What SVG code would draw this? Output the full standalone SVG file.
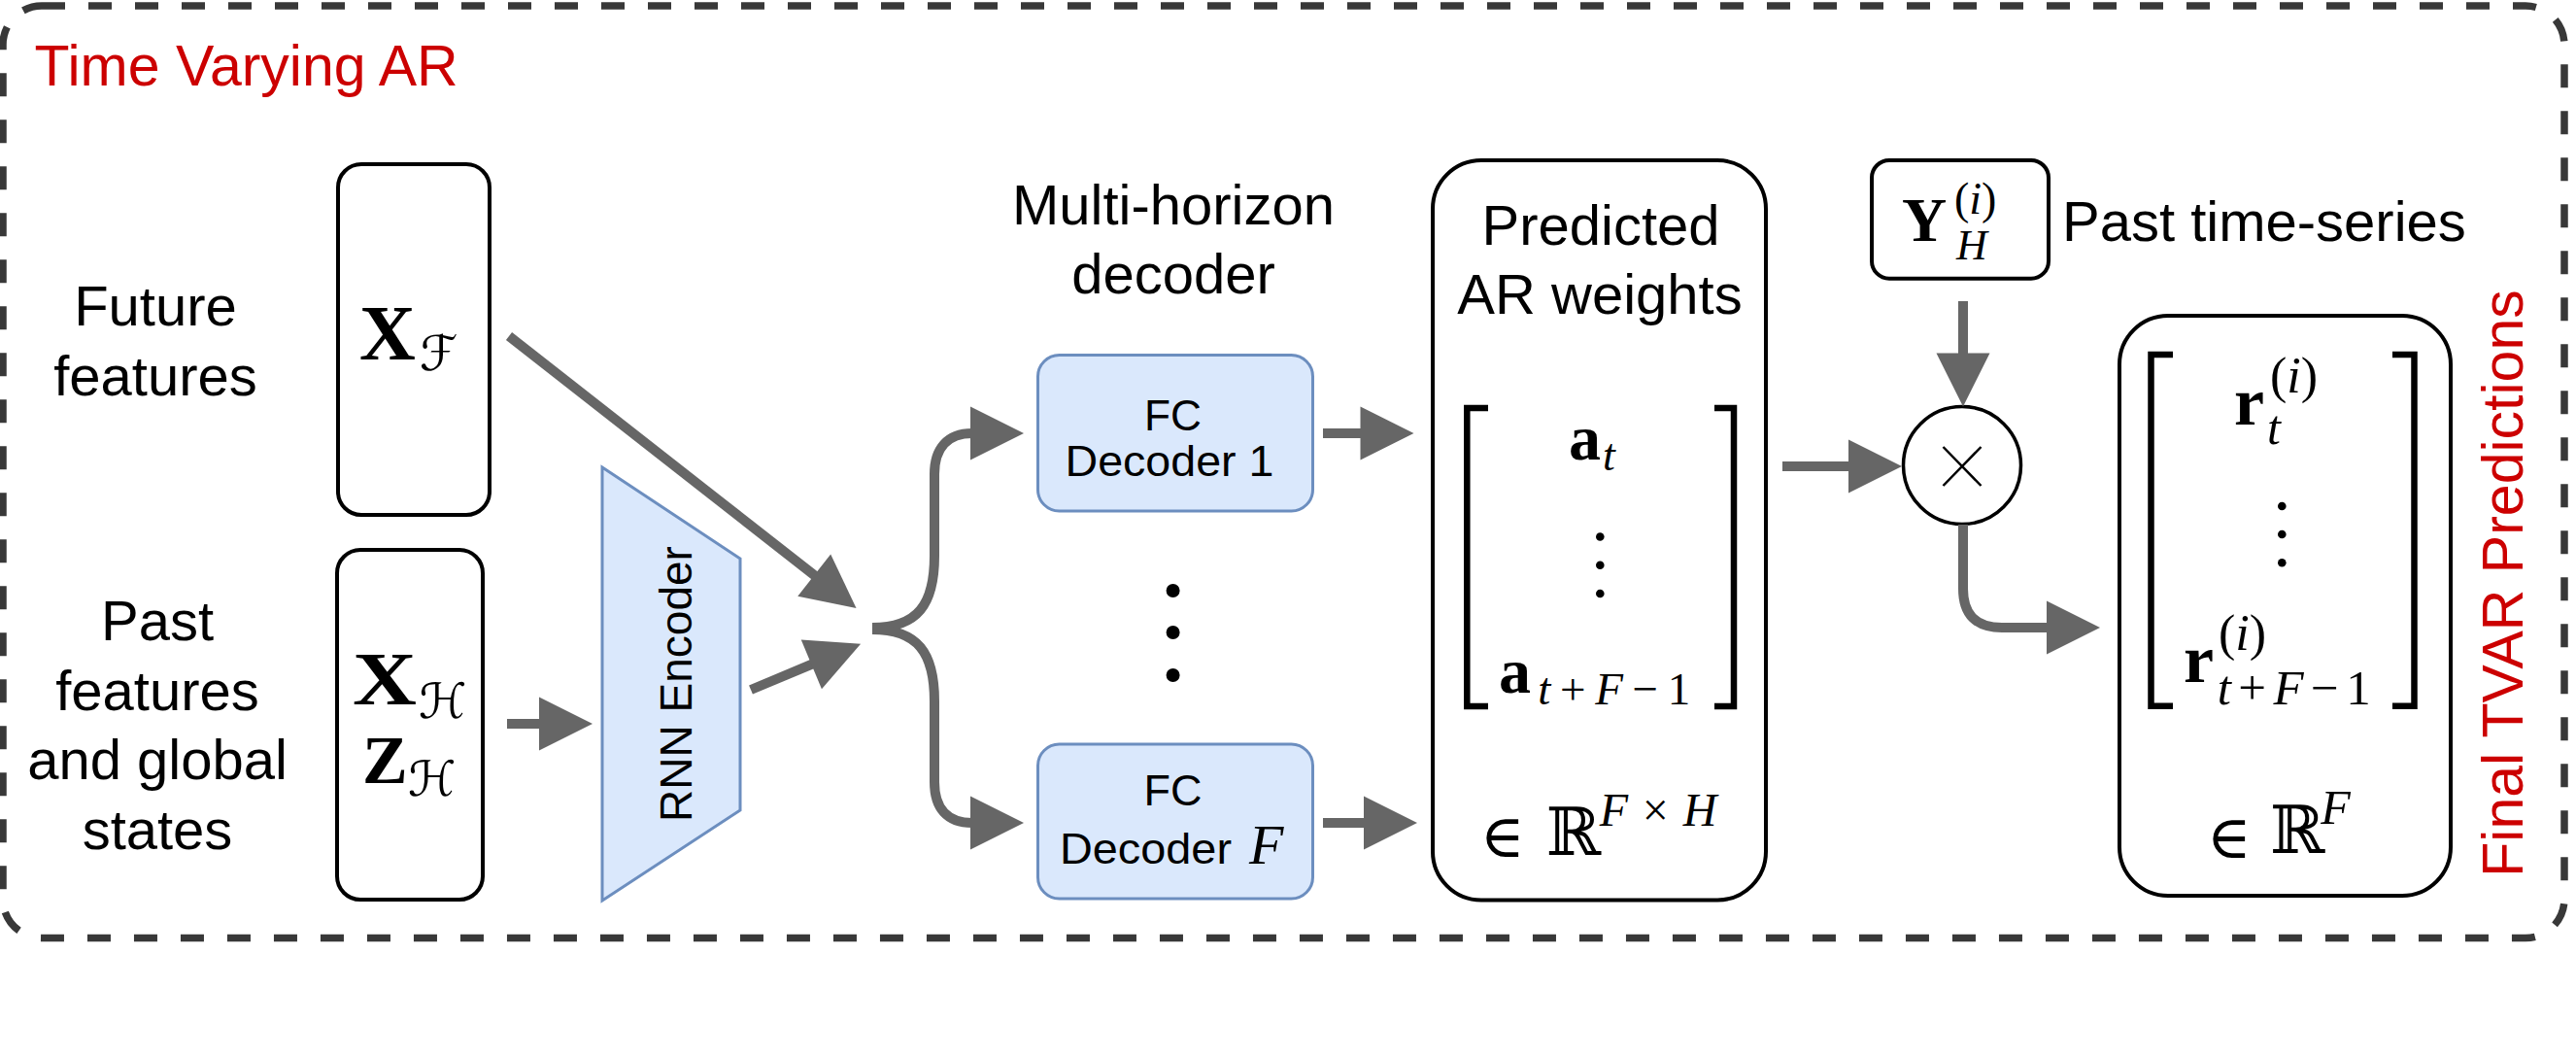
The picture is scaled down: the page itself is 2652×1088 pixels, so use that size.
<svg xmlns="http://www.w3.org/2000/svg" width="2652" height="1088" viewBox="0 0 2652 1088">
<defs>
<marker id="ah" markerUnits="userSpaceOnUse" markerWidth="60" markerHeight="60" refX="2" refY="27.5" orient="auto" overflow="visible">
<path d="M0,0 L55,27.5 L0,55 z" fill="#666"/>
</marker>
<style>
.lbl{font-family:"Liberation Sans",Arial,sans-serif;font-size:58px;fill:#000}
.red{fill:#cc0000}
.box{fill:#fff;stroke:#000;stroke-width:4}
.blue{fill:#dae8fc;stroke:#6c8ebf;stroke-width:3}
.conn{fill:none;stroke:#666;stroke-width:10;marker-end:url(#ah)}
.m{font-family:"Liberation Serif","Times New Roman",serif;fill:#000}
.b{font-weight:bold}
.i{font-style:italic}
.sym{font-family:"DejaVu Serif","DejaVu Sans",serif;fill:#000}
.br{fill:none;stroke:#000;stroke-width:6.5;stroke-linejoin:miter}
.fc{font-family:"Liberation Sans",Arial,sans-serif;font-size:44px;fill:#000}
</style>
</defs>
<rect x="0" y="0" width="2652" height="1088" fill="#fff"/>

<g id="frame">
<rect x="3" y="6" width="2637" height="959.5" rx="40" fill="none" stroke="#383838" stroke-width="7.5" stroke-dasharray="24 24"/>
<text class="lbl red" x="35.6" y="88" style="font-size:59px">Time Varying AR</text>
<text class="lbl red" style="font-size:59px" text-anchor="middle" transform="translate(2597,600.5) rotate(-90)">Final TVAR Predictions</text>
</g>

<g id="label-future">
<text class="lbl" text-anchor="middle" x="160" y="335">Future</text>
<text class="lbl" text-anchor="middle" x="160" y="407">features</text>
</g>
<g id="label-past">
<text class="lbl" text-anchor="middle" x="162" y="659">Past</text>
<text class="lbl" text-anchor="middle" x="162" y="730.5">features</text>
<text class="lbl" text-anchor="middle" x="162" y="802">and global</text>
<text class="lbl" text-anchor="middle" x="162" y="873.5">states</text>
</g>

<g id="n-xf">
<rect class="box" x="348" y="169" width="156" height="361" rx="24"/>
<text class="m b" x="370" y="370" font-size="80">X</text>
<text class="sym i" x="432" y="381" font-size="50">ℱ</text>
</g>

<g id="n-xh">
<rect class="box" x="347" y="566" width="150" height="360" rx="24"/>
<text class="m b" x="363" y="725" font-size="78" textLength="66" lengthAdjust="spacingAndGlyphs">X</text>
<text class="sym i" x="431" y="739" font-size="50">ℋ</text>
<text class="m b" x="373" y="806" font-size="70">Z</text>
<text class="sym i" x="420" y="819" font-size="50">ℋ</text>
</g>

<g id="n-rnn">
<polygon class="blue" points="620,481 762,575 762,834 620,927" stroke-width="2.5"/>
<text class="lbl" style="font-size:46px" text-anchor="middle" transform="translate(712,704) rotate(-90)">RNN Encoder</text>
</g>

<g id="label-multi">
<text class="lbl" text-anchor="middle" x="1208" y="231">Multi-horizon</text>
<text class="lbl" text-anchor="middle" x="1208" y="301.6">decoder</text>
</g>

<g id="n-fc1">
<rect class="blue" x="1068.5" y="365.5" width="283" height="160.5" rx="22"/>
<text class="fc" text-anchor="middle" x="1207.5" y="443.3" textLength="59" lengthAdjust="spacingAndGlyphs">FC</text>
<text class="fc" text-anchor="middle" x="1204" y="490" textLength="215" lengthAdjust="spacingAndGlyphs">Decoder 1</text>
</g>

<g id="n-dots">
<circle cx="1207.6" cy="608" r="7"/>
<circle cx="1207.6" cy="651" r="7"/>
<circle cx="1207.6" cy="695" r="7"/>
</g>

<g id="n-fcf">
<rect class="blue" x="1068.5" y="766" width="283" height="159" rx="22"/>
<text class="fc" text-anchor="middle" x="1207.5" y="829" textLength="60" lengthAdjust="spacingAndGlyphs">FC</text>
<text class="fc" x="1091" y="889" textLength="177" lengthAdjust="spacingAndGlyphs">Decoder</text>
<text class="m i" x="1286" y="889" font-size="58">F</text>
</g>

<g id="n-pred">
<rect class="box" x="1475" y="165" width="343" height="761.5" rx="50"/>
<text class="lbl" text-anchor="middle" x="1648" y="251.7">Predicted</text>
<text class="lbl" text-anchor="middle" x="1647" y="323.3">AR weights</text>
<path class="br" d="M1532,420 L1510.3,420 L1510.3,727 L1532,727"/>
<path class="br" d="M1765,420 L1785,420 L1785,727 L1765,727"/>
<text class="m b" x="1615" y="473.3" font-size="66">a</text>
<text class="m i" x="1650" y="484" font-size="46">t</text>
<circle cx="1647.3" cy="552.5" r="4.3"/>
<circle cx="1647.3" cy="581.7" r="4.3"/>
<circle cx="1647.3" cy="611" r="4.3"/>
<text class="m b" x="1543" y="713.3" font-size="66">a</text>
<text class="m" x="1583.3" y="725" font-size="47" textLength="157"><tspan font-style="italic">t</tspan>+<tspan font-style="italic">F</tspan>−1</text>
<text class="sym" x="1524" y="882" font-size="62">∈</text>
<text class="sym" x="1591.7" y="880" font-size="68">ℝ</text>
<text class="m" x="1646.7" y="850" font-size="48" textLength="120.6"><tspan font-style="italic">F</tspan>×<tspan font-style="italic">H</tspan></text>
</g>

<g id="n-y">
<rect class="box" x="1927" y="165" width="182" height="121.7" rx="18"/>
<text class="m b" x="1958" y="248" font-size="64">Y</text>
<text class="m" x="2012" y="220" font-size="46">(<tspan font-style="italic">i</tspan>)</text>
<text class="m i" x="2014" y="266.7" font-size="44">H</text>
</g>
<g id="label-pastts">
<text class="lbl" x="2123" y="248.3">Past time-series</text>
</g>

<g id="n-mul">
<circle cx="2020" cy="479" r="60.5" fill="#fff" stroke="#000" stroke-width="3.5"/>
<path d="M2000.5,460 L2039.5,500 M2039.5,460 L2000.5,500" stroke="#000" stroke-width="2.5" fill="none"/>
</g>

<g id="n-final">
<rect class="box" x="2182" y="325" width="341" height="597" rx="50"/>
<path class="br" d="M2237,365 L2214.5,365 L2214.5,726.7 L2237,726.7"/>
<path class="br" d="M2463,365 L2485.5,365 L2485.5,726.7 L2463,726.7"/>
<text class="m b" x="2300" y="436.7" font-size="70">r</text>
<text class="m i" x="2334" y="457" font-size="50">t</text>
<text class="m" x="2337" y="404" font-size="52">(<tspan font-style="italic">i</tspan>)</text>
<circle cx="2349.3" cy="521" r="4.3"/>
<circle cx="2349.3" cy="550" r="4.3"/>
<circle cx="2349.3" cy="579.3" r="4.3"/>
<text class="m b" x="2248" y="701.7" font-size="70">r</text>
<text class="m" x="2284" y="669" font-size="52">(<tspan font-style="italic">i</tspan>)</text>
<text class="m" x="2282.7" y="725" font-size="51" textLength="158"><tspan font-style="italic">t</tspan>+<tspan font-style="italic">F</tspan>−1</text>
<text class="sym" x="2272" y="883" font-size="62">∈</text>
<text class="sym" x="2337" y="878.3" font-size="68">ℝ</text>
<text class="m i" x="2389.3" y="848.3" font-size="50">F</text>
</g>

<g id="connectors">
<path class="conn" d="M524,346 L839.8,593.3"/>
<path class="conn" d="M773,710 L837.2,683.2"/>
<path class="conn" d="M522,745 L557,745"/>
<path class="conn" d="M898,646 C945,646 962,622 962,572 L962,488 C962,462 975,446 1001,446"/>
<path class="conn" d="M898,648 C945,648 962,672 962,722 L962,805 C962,832 975,847 1001,847"/>
<path class="conn" d="M1362,446 L1402.5,446"/>
<path class="conn" d="M1362,847 L1406,847"/>
<path class="conn" d="M1835,480 L1905,480"/>
<path class="conn" d="M2021,310 L2021,365.5"/>
<path class="conn" d="M2021,540 L2021,606 Q2021,646 2061,646 L2109,646"/>
</g>
</svg>
